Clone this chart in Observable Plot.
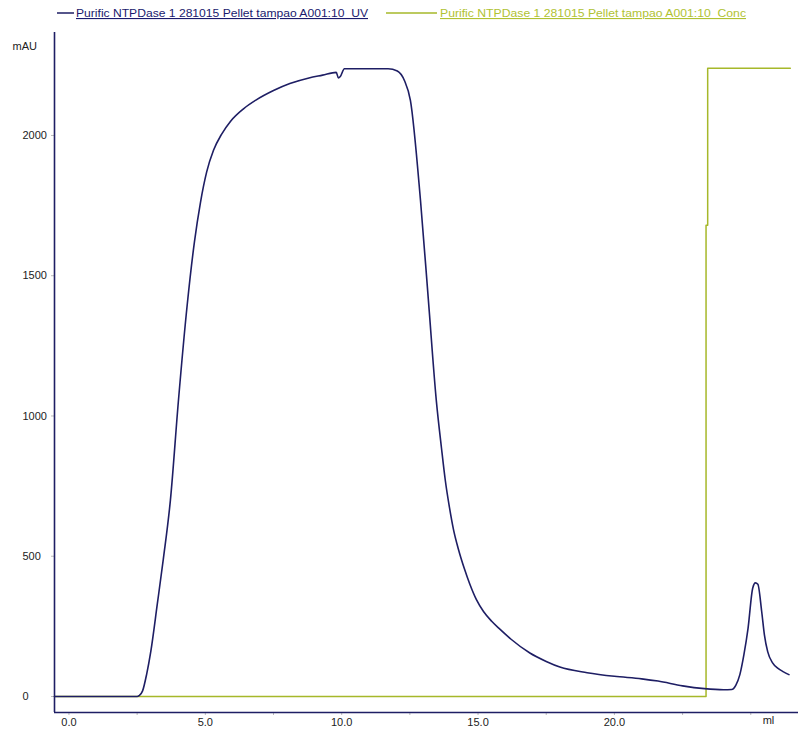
<!DOCTYPE html>
<html>
<head>
<meta charset="utf-8">
<script src="https://cdn.jsdelivr.net/npm/d3@7"></script>
<script src="https://cdn.jsdelivr.net/npm/@observablehq/plot@0.6"></script>
<style>
  html, body { margin: 0; padding: 0; background: #fff; }
  #legend { display: block; }
  #chart svg { display: block; }
</style>
</head>
<body>
<svg id="legend" width="798" height="24"></svg>
<div id="chart"></div>
<script>
// ---- data ----
const seriesNames = [
  "Purific NTPDase 1 281015 Pellet tampao A001:10_UV",
  "Purific NTPDase 1 281015 Pellet tampao A001:10_Conc"
];
const uvMl = [-0.53, 2.5, 2.57, 2.7, 2.85, 3.0, 3.24, 3.46, 3.72, 4.01, 4.34, 4.6, 4.82, 5.05, 5.3, 5.6, 5.92, 6.4, 6.84, 7.5, 8.1, 8.8, 9.3, 9.8, 9.88, 9.95, 10.1, 11.7, 12.04, 12.3, 12.52, 12.89, 13.18, 13.47, 13.66, 13.8, 13.95, 14.1, 14.28, 14.5, 14.7, 14.94, 15.2, 15.5, 15.8, 16.2, 16.9, 17.5, 18.0, 19.0, 20.0, 21.0, 21.6, 22.5, 23.3, 24.0, 24.3, 24.45, 24.6, 24.75, 24.9, 25.07, 25.17, 25.26, 25.4, 25.5, 25.62, 25.8, 26.0, 26.2, 26.4];
const uvMau = [0, 0, 3, 20, 80, 160, 330, 490, 700, 1050, 1400, 1620, 1760, 1870, 1947, 2005, 2050, 2095, 2125, 2160, 2185, 2205, 2215, 2225, 2205, 2210, 2238, 2238, 2230, 2196, 2125, 1768, 1412, 1055, 885, 770, 675, 595, 525, 455, 400, 345, 303, 268, 240, 205, 155, 125, 105, 85, 72, 63, 55, 38, 28, 24, 25, 40, 78, 150, 243, 386, 405, 400, 303, 220, 160, 120, 100, 88, 78];
const concMl = [-0.53, 23.36, 23.36, 23.42, 23.42, 26.45];
const concVal = [0, 0, 1680, 1680, 2240, 2240];
const xTicks = [0, 2.5, 5, 7.5, 10, 12.5, 15, 17.5, 20, 22.5, 25];
const xTickLabels = ["0.0", "", "5.0", "", "10.0", "", "15.0", "", "20.0", "", ""];
const yTicks = [0, 500, 1000, 1500, 2000];
const xUnit = "ml";
const yUnit = "mAU";
const xDomain = [-0.53, 26.75];
const yDomain = [-57, 2367];

const uv = uvMl.map((x, i) => ({x, y: uvMau[i]}));
const conc = concMl.map((x, i) => ({x, y: concVal[i]}));

const BLUE = "#1e1e64";
const GREEN = "#a6b82a";
const FONT = "'Liberation Sans Narrow', 'Liberation Sans', Arial, sans-serif";

// ---- legend ----
const lg = d3.select("#legend").style("font-family", FONT).style("font-size", "11px");
const items = [
  {x1: 57, x2: 74, tx: 76, tw: 292, color: BLUE, text: "#1a1a6e"},
  {x1: 386, x2: 437, tx: 440, tw: 306, color: GREEN, text: "#b0c232"}
];
items.forEach((it, i) => {
  lg.append("line").attr("x1", it.x1).attr("x2", it.x2).attr("y1", 13).attr("y2", 13)
    .attr("stroke", it.color).attr("stroke-width", 1.5);
  lg.append("text").attr("x", it.tx).attr("y", 17).attr("fill", it.text)
    .attr("textLength", it.tw).attr("lengthAdjust", "spacingAndGlyphs")
    .attr("text-decoration", "underline")
    .text(seriesNames[i]);
});

// ---- chart ----
const chart = Plot.plot({
  width: 798,
  height: 707,
  marginTop: 8,
  marginBottom: 19,
  marginLeft: 54,
  marginRight: 0,
  style: {fontFamily: FONT, fontSize: "11px", color: "#222", background: "#fff"},
  x: {domain: xDomain},
  y: {domain: yDomain},
  marks: [
    Plot.axisX({ticks: xTicks, tickSize: 3, tickPadding: 3, stroke: "#bbb",
      tickFormat: (d) => xTickLabels[xTicks.indexOf(d)], label: null, fill: "#222"}),
    Plot.axisY({ticks: yTicks, tickSize: 3, tickPadding: 29, textAnchor: "start",
      tickFormat: d3.format("d"), stroke: "#bbb", label: null, fill: "#222"}),
    Plot.text([yUnit], {frameAnchor: "top-left", dx: -42, dy: 10, textAnchor: "start", fill: "#222"}),
    Plot.text([xUnit], {frameAnchor: "bottom-right", dx: -30, dy: 11, textAnchor: "middle", fill: "#222"}),
    Plot.line(conc, {x: "x", y: "y", stroke: GREEN, strokeWidth: 1.5, curve: "linear"}),
    Plot.line(uv, {x: "x", y: "y", stroke: BLUE, strokeWidth: 1.6, curve: "monotone-x"}),
    Plot.ruleX([xDomain[0]], {stroke: BLUE, strokeWidth: 1.6}),
    Plot.ruleY([yDomain[0]], {stroke: BLUE, strokeWidth: 1.6})
  ]
});
document.getElementById("chart").appendChild(chart);
</script>
</body>
</html>
